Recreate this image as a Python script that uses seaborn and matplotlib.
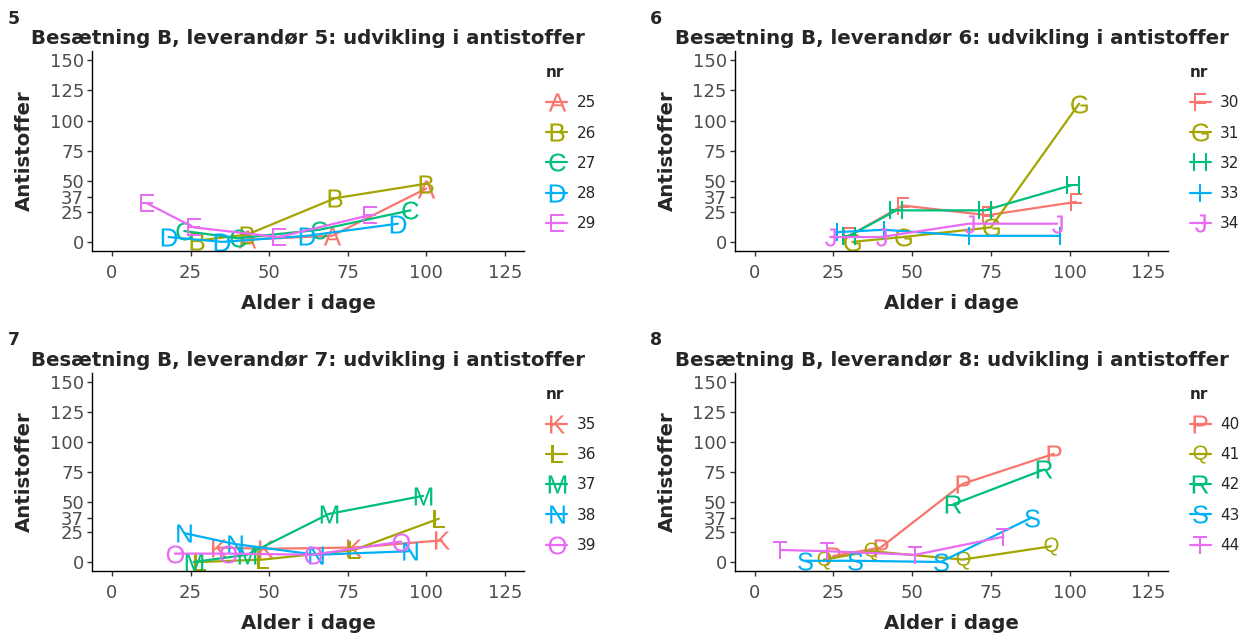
import matplotlib
matplotlib.use("Agg")
import matplotlib.pyplot as plt
import pandas as pd
import seaborn as sns

FARVER = ["#F8766D", "#A3A500", "#00BF7D", "#00B0F6", "#E76BF3"]
X_TICKS = [0, 25, 50, 75, 100, 125]
Y_TICKS = [0, 25, 37, 50, 75, 100, 125, 150]

# Leverandør 5
nr_5 = [25, 26, 27, 28, 29]
bogstaver_5 = ["A", "B", "C", "D", "E"]
alder_5 = [[43, 70, 100], [27, 43, 71, 100], [23, 40, 66, 95], [18, 35, 62, 91], [11, 26, 53, 82]]
antistoffer_5 = [[2, 5, 44], [1, 6, 36, 48], [9, 3, 10, 26], [4, 0, 5, 15], [32, 12, 4, 22]]

# Leverandør 6
nr_6 = [30, 31, 32, 33, 34]
bogstaver_6 = ["F", "G", "H", "I", "J"]
alder_6 = [[30, 47, 74, 102], [31, 47, 75, 103], [30, 45, 73, 101], [26, 41, 68, 97], [24, 40, 68, 96]]
antistoffer_6 = [[5, 30, 22, 33], [0, 4, 12, 114], [5, 26, 26, 47], [8, 10, 5, 5], [4, 4, 15, 15]]

# Leverandør 7
nr_7 = [35, 36, 37, 38, 39]
bogstaver_7 = ["K", "L", "M", "N", "O"]
alder_7 = [[34, 49, 77, 105], [28, 48, 77, 104], [26, 43, 69, 99], [23, 39, 65, 95], [20, 37, 64, 92]]
antistoffer_7 = [[12, 11, 12, 18], [0, 2, 10, 36], [0, 6, 40, 55], [24, 15, 6, 9], [7, 7, 6, 17]]

# Leverandør 8
nr_8 = [40, 41, 42, 43, 44]
bogstaver_8 = ["P", "Q", "R", "S", "T"]
alder_8 = [[25, 40, 66, 95], [22, 37, 66, 94], [63, 92], [16, 32, 59, 88], [8, 23, 51, 79]]
antistoffer_8 = [[5, 12, 65, 90], [2, 9, 2, 13], [48, 77], [1, 1, 0, 37], [10, 9, 6, 21]]


def byg_data(nr, alder, antistoffer):
    rows = []
    for n, xs, ys in zip(nr, alder, antistoffer):
        for x, y in zip(xs, ys):
            rows.append({"nr": str(n), "alder": x, "antistoffer": y})
    return pd.DataFrame(rows)


def tegn_panel(fig, rect, tag, tag_xy, nr, bogstaver, alder, antistoffer):
    ax = fig.add_axes(rect)
    data = byg_data(nr, alder, antistoffer)
    order = [str(n) for n in nr]
    markers = {str(n): f"$\\mathrm{{{b}}}$" for n, b in zip(nr, bogstaver)}
    sns.lineplot(data=data, x="alder", y="antistoffer", hue="nr", style="nr",
                 hue_order=order, style_order=order, palette=FARVER, markers=markers,
                 dashes=False, markersize=13, markeredgewidth=0, linewidth=1.6,
                 estimator=None, sort=True, ax=ax)
    ax.set(xlim=(-6.25, 131.25), ylim=(-7.5, 157.5), xticks=X_TICKS, yticks=Y_TICKS)
    ax.set_xlabel("Alder i dage", fontsize=14.2, fontweight="bold")
    ax.set_ylabel("Antistoffer", fontsize=14.2, fontweight="bold")
    ax.xaxis.set_label_coords(0.5, -0.215)
    ax.yaxis.set_label_coords(-0.135, 0.5)
    ax.set_title(f"Besætning B, leverandør {tag}: udvikling i antistoffer",
                 fontsize=14.2, fontweight="bold", pad=5)
    ax.tick_params(axis="both", labelsize=13, labelcolor="#4D4D4D", color="#333333",
                   length=3.5, width=1)
    ax.tick_params(axis="x", pad=6)
    ax.tick_params(axis="y", pad=2.5)
    for side in ("left", "bottom"):
        ax.spines[side].set_color("black")
        ax.spines[side].set_linewidth(1)
    sns.despine(ax=ax)
    sns.move_legend(ax, "upper left", bbox_to_anchor=(1.05, 0.93), frameon=False,
                    title="nr", fontsize=11, title_fontsize=11, labelspacing=1.0,
                    handlelength=1.4, handletextpad=0.6, borderpad=0, borderaxespad=0,
                    alignment="left")
    ax.get_legend().get_title().set_fontweight("bold")
    fig.text(tag_xy[0], tag_xy[1], tag, fontsize=12.5, fontweight="bold", va="baseline")
    return ax


def main():
    sns.set_style("ticks")
    plt.rcParams["font.family"] = ["DejaVu Sans"]
    plt.rcParams["mathtext.fontset"] = "custom"
    plt.rcParams["mathtext.rm"] = "Liberation Sans"
    fig = plt.figure(figsize=(12.53, 6.37), dpi=100)
    top, bund = 0.6060, 0.1036
    venstre, hoejre = 0.0737, 0.5866
    tegn_panel(fig, [venstre, top, 0.3448, 0.314], "5", (0.006, 1 - 24 / 637),
               nr_5, bogstaver_5, alder_5, antistoffer_5)
    tegn_panel(fig, [hoejre, top, 0.3456, 0.314], "6", (0.519, 1 - 24 / 637),
               nr_6, bogstaver_6, alder_6, antistoffer_6)
    tegn_panel(fig, [venstre, bund, 0.3448, 0.3113], "7", (0.006, 1 - 345 / 637),
               nr_7, bogstaver_7, alder_7, antistoffer_7)
    tegn_panel(fig, [hoejre, bund, 0.3456, 0.3113], "8", (0.519, 1 - 345 / 637),
               nr_8, bogstaver_8, alder_8, antistoffer_8)
    fig.savefig("out.png", dpi=100, facecolor="white")
    plt.close(fig)


if __name__ == "__main__":
    main()
